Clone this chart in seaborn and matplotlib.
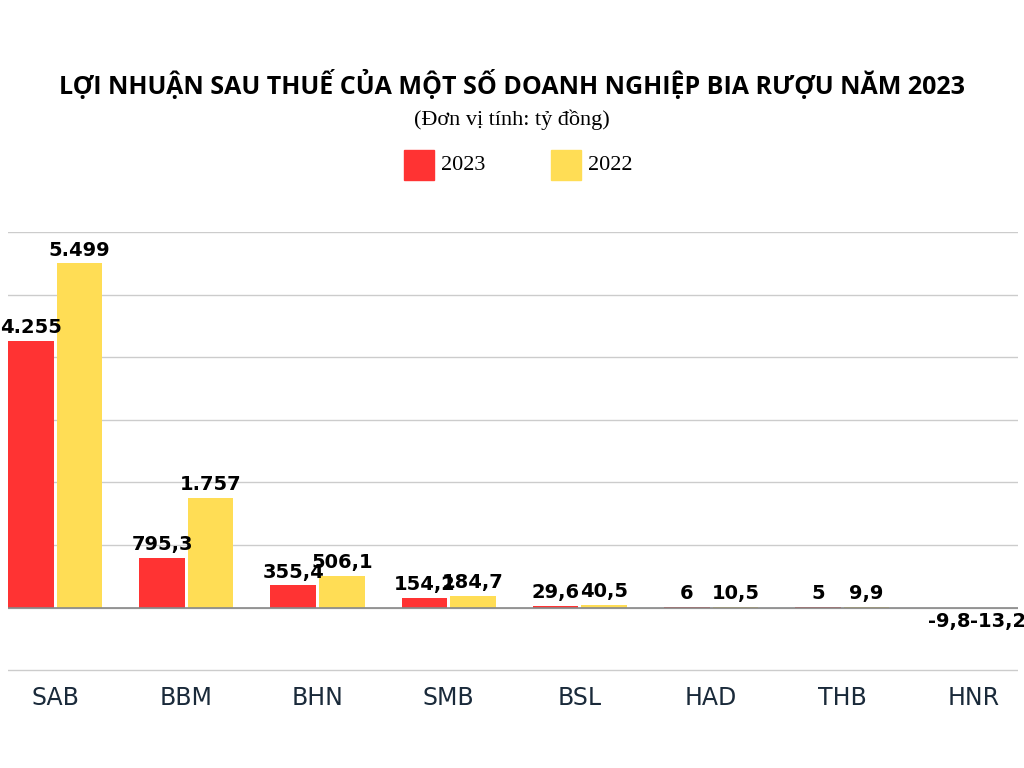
import matplotlib
matplotlib.use("Agg")
import matplotlib.pyplot as plt
from matplotlib import font_manager
import seaborn as sns
import pandas as pd

# ---------- DADOS ----------
COMPANIES = ['SAB', 'BBM', 'BHN', 'SMB', 'BSL', 'HAD', 'THB', 'HNR']
PROFIT_2023 = [4255, 795.3, 355.4, 154.2, 29.6, 6, 5, -9.8]
PROFIT_2022 = [5499, 1757, 506.1, 184.7, 40.5, 10.5, 9.9, -13.2]
LABELS_2023 = ['4.255', '795,3', '355,4', '154,2', '29,6', '6', '5', '-9,8']
LABELS_2022 = ['5.499', '1.757', '506,1', '184,7', '40,5', '10,5', '9,9', '-13,2']
YEARS = ['2023', '2022']
COLORS = ['#ff3333', '#ffdd55']

names = {f.name for f in font_manager.fontManager.ttflist}
LABEL_FONT = 'Liberation Sans Narrow' if 'Liberation Sans Narrow' in names else 'DejaVu Sans'

df = pd.DataFrame({
    'company': COMPANIES * 2,
    'value': PROFIT_2023 + PROFIT_2022,
    'year': [YEARS[0]] * len(COMPANIES) + [YEARS[1]] * len(COMPANIES),
})

fig = plt.figure(figsize=(10.24, 7.68), dpi=100)
ax = fig.add_axes([8 / 1024, 1 - 672 / 768, 1010 / 1024, 440 / 768])

sns.barplot(data=df, x='company', y='value', hue='year', palette=COLORS,
            width=0.74, gap=0.06, ax=ax, legend=False, saturation=1)

ax.set_ylim(-1030, 6000)
ax.set_xlim(-0.36, 7.34)
ax.set_yticks(range(-1000, 6001, 1000))
ax.set_yticklabels([])
ax.tick_params(axis='y', length=0)
ax.tick_params(axis='x', length=0, pad=10, labelsize=17, labelcolor='#1a2a3a')
ax.grid(axis='y', color='#cccccc', linewidth=1)
ax.set_axisbelow(True)
ax.axhline(0, color='#888888', linewidth=1.2, zorder=1)
for s in ax.spines.values():
    s.set_visible(False)
ax.set_xlabel('')
ax.set_ylabel('')

for cont, labels in zip(ax.containers, [LABELS_2023, LABELS_2022]):
    for bar, lab in zip(cont, labels):
        h = bar.get_height()
        x = bar.get_x() + bar.get_width() / 2
        if h >= 0:
            ax.text(x, h + 60, lab, ha='center', va='bottom', fontsize=14,
                    fontweight='bold', family=LABEL_FONT)
        else:
            ax.text(x, h - 60, lab, ha='center', va='top', fontsize=14,
                    fontweight='bold', family=LABEL_FONT)

fig.text(0.5, 1 - 85 / 768, 'LỢI NHUẬN SAU THUẾ CỦA MỘT SỐ DOANH NGHIỆP BIA RƯỢU NĂM 2023',
         ha='center', va='center', fontsize=18, fontweight='bold', family='Open Sans')
fig.text(0.5, 1 - 120 / 768, '(Đơn vị tính: tỷ đồng)', ha='center', va='center',
         fontsize=16, family='Liberation Serif')

# legenda
for i, (yr, c) in enumerate(zip(YEARS, COLORS)):
    x0 = (404 + i * 147) / 1024
    fig.patches.append(plt.Rectangle((x0, 1 - 180 / 768), 30 / 1024, 30 / 768,
                                     transform=fig.transFigure, color=c, figure=fig))
    fig.text(x0 + 37 / 1024, 1 - 165 / 768, yr, va='center', fontsize=16,
             family='Liberation Serif')

fig.savefig('out.png', dpi=100)
